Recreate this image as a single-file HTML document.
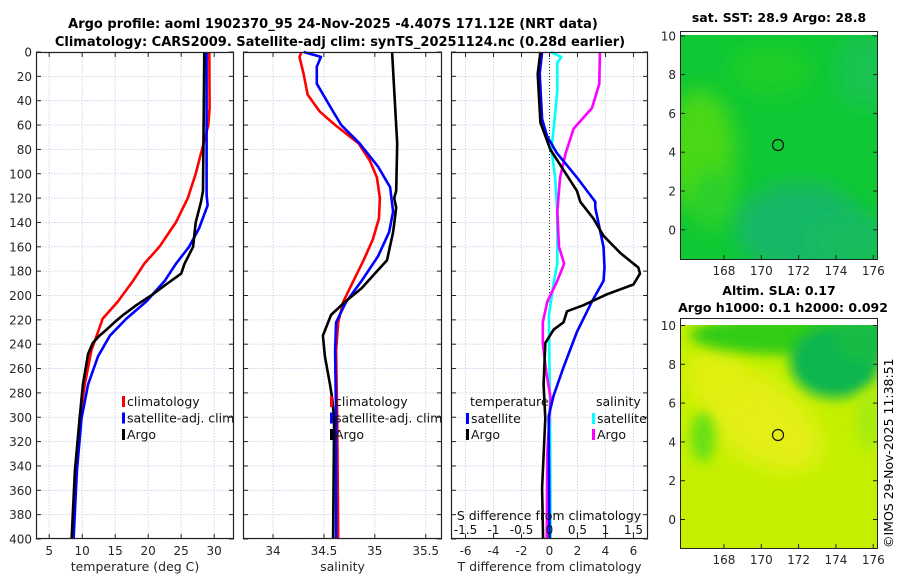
<!DOCTYPE html>
<html><head><meta charset="utf-8"><style>
html,body{margin:0;padding:0;background:#fff;}
svg{display:block;font-family:"DejaVu Sans","Liberation Sans",sans-serif;}
</style></head><body>
<svg id="fig" width="900" height="580" viewBox="0 0 900 580" xmlns="http://www.w3.org/2000/svg">
<defs>
<filter id="blur8" x="-50%" y="-50%" width="200%" height="200%"><feGaussianBlur stdDeviation="10"/></filter>
<filter id="blur5" x="-50%" y="-50%" width="200%" height="200%"><feGaussianBlur stdDeviation="6"/></filter>
<clipPath id="clipTop"><rect x="681" y="35" width="196" height="224"/></clipPath>
<clipPath id="clipBot"><rect x="681" y="325" width="196" height="223"/></clipPath>
</defs>
<text x="333" y="28" text-anchor="middle" font-size="13" font-weight="bold">Argo profile: aoml 1902370_95 24-Nov-2025 -4.407S 171.12E (NRT data)</text>
<text x="340" y="46" text-anchor="middle" font-size="13" font-weight="bold">Climatology: CARS2009. Satellite-adj clim: synTS_20251124.nc (0.28d earlier)</text>

<!-- maps -->
<g>
<text x="779" y="22" text-anchor="middle" font-size="12.5" font-weight="bold">sat. SST: 28.9 Argo: 28.8</text>
<g clip-path="url(#clipTop)">
<rect x="681" y="35" width="196" height="224" fill="#10c834"/>
<ellipse cx="700" cy="150" rx="35" ry="60" fill="#48d818" filter="url(#blur8)"/>
<ellipse cx="715" cy="200" rx="25" ry="30" fill="#2cd02a" filter="url(#blur8)"/>
<ellipse cx="800" cy="228" rx="65" ry="45" fill="#16b868" filter="url(#blur8)"/>
<ellipse cx="865" cy="70" rx="30" ry="40" fill="#12c450" filter="url(#blur8)"/>
<ellipse cx="850" cy="240" rx="40" ry="25" fill="#14bc5e" filter="url(#blur8)"/>
<ellipse cx="770" cy="70" rx="40" ry="25" fill="#1cce28" filter="url(#blur8)"/>
</g>
<rect x="681" y="32" width="196" height="3" fill="#fff"/>
<rect x="680.5" y="31.5" width="197" height="228" fill="none" stroke="#222" stroke-width="1"/>
<circle cx="778" cy="145" r="5.5" fill="none" stroke="#111" stroke-width="1.2"/>
</g>
<g>
<text x="779" y="295" text-anchor="middle" font-size="12.5" font-weight="bold">Altim. SLA: 0.17</text>
<text x="783" y="312" text-anchor="middle" font-size="12.5" font-weight="bold">Argo h1000: 0.1 h2000: 0.092</text>
<g clip-path="url(#clipBot)">
<rect x="681" y="325" width="196" height="223" fill="#c4f000"/>
<ellipse cx="760" cy="420" rx="70" ry="40" fill="#e4ef12" filter="url(#blur8)" transform="rotate(35 760 420)"/>
<ellipse cx="715" cy="375" rx="30" ry="25" fill="#e0f010" filter="url(#blur8)"/>
<ellipse cx="790" cy="335" rx="100" ry="20" fill="#30cc12" filter="url(#blur5)"/>
<ellipse cx="835" cy="362" rx="45" ry="36" fill="#10b650" filter="url(#blur5)"/>
<ellipse cx="865" cy="340" rx="30" ry="22" fill="#14bc44" filter="url(#blur5)"/>
<ellipse cx="703" cy="437" rx="12" ry="25" fill="#66e012" filter="url(#blur5)"/>
<ellipse cx="870" cy="420" rx="15" ry="30" fill="#a8ec08" filter="url(#blur5)"/>
</g>
<rect x="680.5" y="318.5" width="197" height="230" fill="none" stroke="#222" stroke-width="1"/>
<circle cx="778" cy="435" r="5.5" fill="none" stroke="#111" stroke-width="1.2"/>
</g>
<text transform="translate(893 548) rotate(-90)" font-size="12.5">©IMOS 29-Nov-2025 11:38:51</text>
</svg>
<script>
// ---- depth levels & series (panel 1: temperature) ----
var tClimDepth = [0,46,60,77,100,120,140,160,174,188,205,219,230,245,273,301,344,400];
var tClimVal   = [29.25,29.3,29.1,28.3,27.2,26.0,24.2,21.7,19.4,17.7,15.4,13.1,12.4,11.4,10.4,9.6,9.1,8.6];
var tSatDepth  = [0,117,126,145,160,174,188,205,219,233,250,273,301,344,400];
var tSatVal    = [28.85,28.85,29.0,27.7,26.2,24.2,22.5,19.7,16.7,14.2,12.4,10.9,9.9,9.2,8.7];
var tArgoDepth = [0,114,123,140,160,174,182,191,199,208,216,222,228,233,239,248,273,301,344,400];
var tArgoVal   = [28.5,28.3,28.0,27.2,26.8,25.5,25.0,22.7,20.7,18.2,16.2,14.9,13.7,12.6,11.6,10.9,10.1,9.6,8.9,8.4];
// ---- panel 2: salinity ----
var sClimDepth = [0,4,18,35,49,60,75,89,103,120,137,154,171,188,205,222,245,301,400];
var sClimVal   = [34.28,34.26,34.3,34.34,34.46,34.61,34.84,34.95,35.02,35.05,35.04,34.98,34.89,34.79,34.69,34.64,34.62,34.63,34.64];
var sSatDepth  = [0,4,12,26,46,60,75,94,111,131,148,168,188,205,222,245,301,400];
var sSatVal    = [34.3,34.47,34.43,34.43,34.57,34.67,34.85,35.03,35.15,35.18,35.14,35.03,34.87,34.72,34.62,34.61,34.62,34.62];
var sArgoDepth = [0,46,75,114,120,128,148,171,182,194,205,216,233,250,273,284,301,400];
var sArgoVal   = [35.17,35.2,35.22,35.21,35.19,35.21,35.18,35.12,35.0,34.87,34.71,34.57,34.49,34.51,34.56,34.58,34.6,34.59];
// ---- panel 3: differences from climatology ----
var dTSatDepth  = [0,18,55,69,83,103,123,128,160,177,188,205,230,259,282,299,400];
var dTSatVal    = [-0.53,-0.7,-0.53,-0.18,0.53,1.96,3.27,3.27,3.86,3.93,3.86,3.03,1.96,1.0,0.3,-0.06,0];
var dTArgoDepth = [0,18,58,80,114,123,137,151,165,177,182,191,199,208,213,222,228,239,273,301,358,400];
var dTArgoVal   = [-0.65,-0.84,-0.65,0.06,1.96,2.2,3.15,3.86,5.05,6.35,6.47,6.0,4.1,2.43,1.25,1.0,0.3,-0.3,-0.42,-0.3,-0.53,-0.46];
var dSSatDepth  = [0,4,9,32,60,80,103,131,174,188,216,301,400];
var dSSatVal    = [0.02,0.21,0.14,0.14,0.08,0.035,0.1,0.14,0.14,0.08,-0.01,0.01,0.02];
var dSArgoDepth = [0,26,46,63,83,103,131,160,174,188,205,222,239,262,284,330,400];
var dSArgoVal   = [0.9,0.89,0.76,0.43,0.29,0.19,0.14,0.17,0.26,0.14,-0.04,-0.12,-0.12,-0.06,0.02,-0.04,-0.05];
// ---- ticks ----
var depthTicks = [0,20,40,60,80,100,120,140,160,180,200,220,240,260,280,300,320,340,360,380,400];
var tempTicks = [5,10,15,20,25,30];
var salTicks = [34,34.5,35,35.5];
var salTickLabels = ["34","34.5","35","35.5"];
var dTTicks = [-6,-4,-2,0,2,4,6];
var dSTicks = [-1.5,-1,-0.5,0,0.5,1,1.5];
var dSTickLabels = ["-1.5","-1","-0.5","0","0.5","1","1.5"];
var lonTicks = [168,170,172,174,176];
var latTicks = [0,2,4,6,8,10];

var NS = "http://www.w3.org/2000/svg";
var svg = document.getElementById("fig");
function mk(tag, attrs, parent){ var e=document.createElementNS(NS,tag); for(var k in attrs) e.setAttribute(k,attrs[k]); (parent||svg).appendChild(e); return e; }

var TOP=52, BOT=539;
function yD(d){ return TOP + d*(BOT-TOP)/400; }
function lin(d0,d1,r0,r1){ return function(v){ return r0+(v-d0)*(r1-r0)/(d1-d0); }; }

var panels = [
 {name:"temperature-panel", x0:36, x1:234, sx:lin(3,33,36,234), ticks:tempTicks, labels:tempTicks.map(String), xlabel:"temperature (deg C)", ylabels:true},
 {name:"salinity-panel", x0:243, x1:442, sx:lin(33.705,35.66,243,442), ticks:salTicks, labels:salTickLabels, xlabel:"salinity", ylabels:false},
 {name:"difference-panel", x0:451, x1:648, sx:lin(-7.04,7.04,451,648), ticks:dTTicks, labels:dTTicks.map(String), xlabel:"T difference from climatology", ylabels:false}
];

panels.forEach(function(p){
  var g = mk("g",{});
  
  
  var grid = mk("g",{},g);
  
  
  depthTicks.forEach(function(d){
    var l = mk("line",{x1:p.x0,x2:p.x1,y1:yD(d),y2:yD(d),stroke:"#c5cbe6","stroke-width":0.8,"stroke-dasharray":"1.5,1.5"},grid);
    
    
  });
  p.ticks.forEach(function(v){
    var x = p.sx(v);
    var l = mk("line",{x1:x,x2:x,y1:TOP,y2:BOT,stroke:"#c5cbe6","stroke-width":0.8,"stroke-dasharray":"1.5,1.5"},grid);
    
    
  });
  p.g = g;
});

var pD = panels[2];
var sxS = lin(-1.76,1.76,451,648);
var z = mk("line",{x1:pD.sx(0),x2:pD.sx(0),y1:TOP,y2:BOT,stroke:"#333","stroke-width":1,"stroke-dasharray":"1,2"});



function series(depths, vals, sx, color, name){
  var pts = depths.map(function(d,i){ return sx(vals[i]).toFixed(1)+","+yD(d).toFixed(1); }).join(" ");
  var l = mk("polyline",{points:pts,fill:"none",stroke:color,"stroke-width":2.6,"stroke-linejoin":"round"});
  
  
}
var P1=panels[0].sx, P2=panels[1].sx, P3=pD.sx;
series(tClimDepth,tClimVal,P1,"#ff0000","temp-climatology-line");
series(tSatDepth,tSatVal,P1,"#0000ff","temp-satellite-line");
series(tArgoDepth,tArgoVal,P1,"#000000","temp-argo-line");
series(sClimDepth,sClimVal,P2,"#ff0000","sal-climatology-line");
series(sSatDepth,sSatVal,P2,"#0000ff","sal-satellite-line");
series(sArgoDepth,sArgoVal,P2,"#000000","sal-argo-line");
series(dSSatDepth,dSSatVal,sxS,"#00ffff","sdiff-satellite-line");
series(dSArgoDepth,dSArgoVal,sxS,"#ff00ff","sdiff-argo-line");
series(dTSatDepth,dTSatVal,P3,"#0000ff","tdiff-satellite-line");
series(dTArgoDepth,dTArgoVal,P3,"#000000","tdiff-argo-line");

panels.forEach(function(p){
  var f = mk("rect",{x:p.x0+0.5,y:TOP+0.5,width:p.x1-p.x0-1,height:BOT-TOP-1,fill:"none",stroke:"#222","stroke-width":1.2});
  
  
  depthTicks.forEach(function(d){
    var y=yD(d);
    mk("line",{x1:p.x0,x2:p.x0+5,y1:y,y2:y,stroke:"#222"});
    mk("line",{x1:p.x1-5,x2:p.x1,y1:y,y2:y,stroke:"#222"});
    if(p.ylabels){
      var t = mk("text",{x:p.x0-4,y:y+4.5,"text-anchor":"end","font-size":12,fill:"#262626"});
      
      
      t.textContent = d;
    }
  });
  p.ticks.forEach(function(v,i){
    var x=p.sx(v);
    mk("line",{x1:x,x2:x,y1:BOT-5,y2:BOT,stroke:"#222"});
    mk("line",{x1:x,x2:x,y1:TOP,y2:TOP+5,stroke:"#222"});
    var t = mk("text",{x:x,y:BOT+16,"text-anchor":"middle","font-size":12,fill:"#262626"});
    
    
    t.textContent = p.labels[i];
  });
  var xl = mk("text",{x:(p.x0+p.x1)/2,y:571,"text-anchor":"middle","font-size":12.5,fill:"#262626"});
  
  
  xl.textContent = p.xlabel;
});
dSTicks.forEach(function(v,i){
  var t = mk("text",{x:sxS(v),y:534,"text-anchor":"middle","font-size":12,fill:"#111"});
  
  
  t.textContent = dSTickLabels[i];
});
var st = mk("text",{x:549,y:520,"text-anchor":"middle","font-size":12.5,fill:"#111"});


st.textContent = "S difference from climatology";

function legend(x,y,color,label,name){
  var m = mk("rect",{x:x,y:y-9,width:3,height:11,fill:color});
  
  
  var t = mk("text",{x:x+5,y:y+1,"font-size":12.5,fill:"#111"});
  
  
  t.textContent = label;
}
var legendLabels = ["climatology","satellite-adj. clim","Argo"];
var legendColors = ["#ff0000","#0000ff","#000000"];
[[122,"temp"],[330,"sal"]].forEach(function(a){
  legendLabels.forEach(function(lb,i){ legend(a[0],405+i*16.5,legendColors[i],lb,a[1]+'-legend-entry'); });
});
var tl = mk("text",{x:470,y:406,"font-size":12.5,fill:"#111"}); tl.textContent="temperature";
 
var sl = mk("text",{x:596,y:406,"font-size":12.5,fill:"#111"}); sl.textContent="salinity";
 
legend(466,422,"#0000ff","satellite","tdiff-legend-entry");
legend(466,438,"#000000","Argo","tdiff-legend-entry");
legend(592,422,"#00ffff","satellite","sdiff-legend-entry");
legend(592,438,"#ff00ff","Argo","sdiff-legend-entry");

var lonX = lin(165.7,176.2,681,877);
[[35.8,259,"sst"],[325.5,548,"sla"]].forEach(function(m){
  var latY = lin(10,0,m[0],m[0]+194);
  lonTicks.forEach(function(v){
    var x=lonX(v);
    mk("line",{x1:x,x2:x,y1:m[1]-4,y2:m[1],stroke:"#222"});
    var t = mk("text",{x:x,y:m[1]+16,"text-anchor":"middle","font-size":12,fill:"#262626"});
    
    
    t.textContent = v;
  });
  latTicks.forEach(function(v){
    var y=latY(v);
    mk("line",{x1:681,x2:685,y1:y,y2:y,stroke:"#222"});
    mk("line",{x1:873,x2:877,y1:y,y2:y,stroke:"#222"});
    var t = mk("text",{x:676,y:y+4.5,"text-anchor":"end","font-size":12,fill:"#262626"});
    
    
    t.textContent = v;
  });
});
</script>
</body></html>
